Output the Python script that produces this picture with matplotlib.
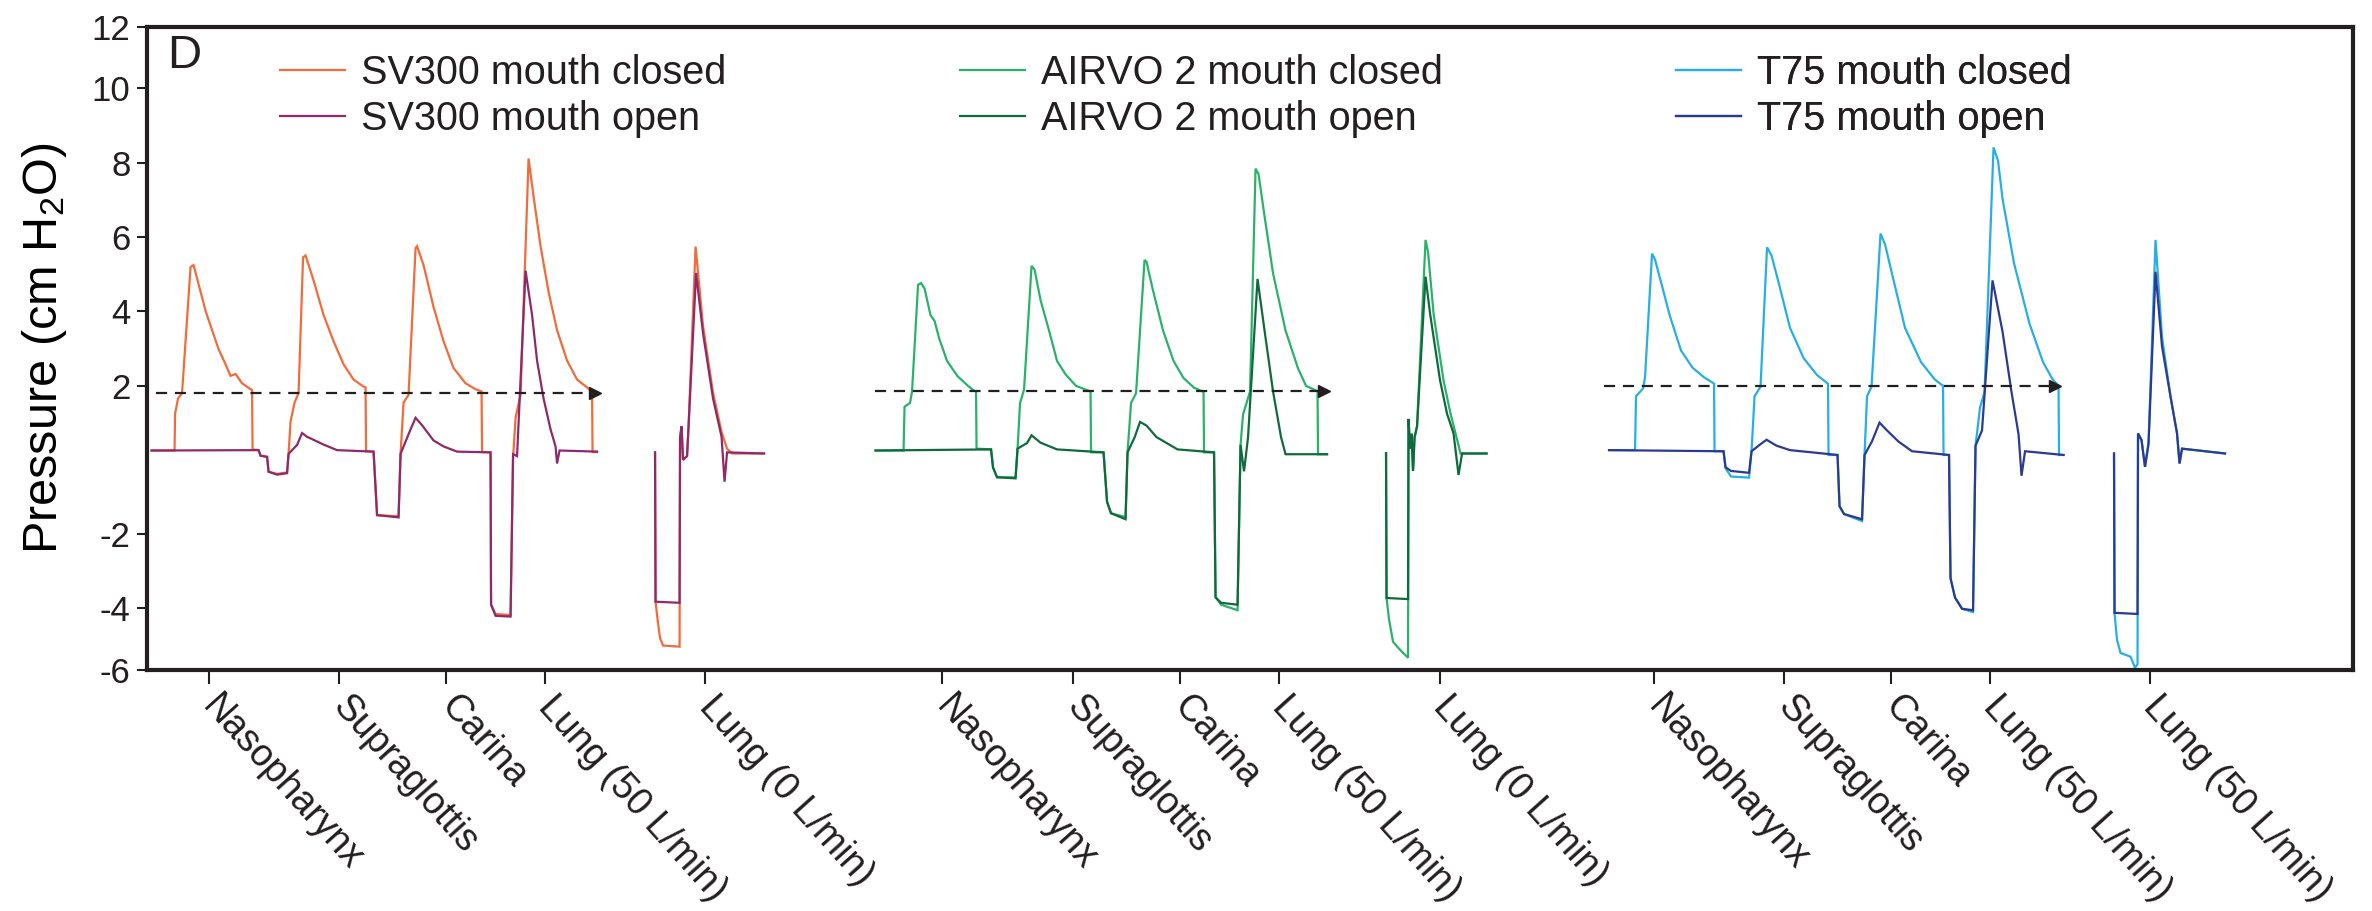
import matplotlib.pyplot as plt
from matplotlib.lines import Line2D

# Pressure traces: (time in s, pressure in cm H2O)
sv300_closed = [
    (0.09, 0.25), (0.55, 0.25), (0.56, 1.24), (0.62, 1.65), (0.70, 1.80), (0.87, 5.19),
    (0.93, 5.24), (1.03, 4.73), (1.17, 4.01), (1.30, 3.49), (1.43, 2.98), (1.57, 2.57),
    (1.67, 2.26), (1.77, 2.31), (1.90, 2.06), (2.07, 1.90), (2.10, 1.88), (2.11, 0.28),
    (2.23, 0.26), (2.27, 0.11), (2.40, 0.08), (2.43, -0.32), (2.60, -0.38), (2.80, -0.34),
    (2.83, 0.16), (2.87, 1.03), (2.95, 1.54), (3.03, 1.80), (3.12, 5.45), (3.17, 5.50),
    (3.33, 4.83), (3.53, 3.90), (3.73, 3.19), (3.93, 2.57), (4.13, 2.16), (4.33, 1.97),
    (4.37, 1.95), (4.38, 0.23), (4.53, 0.22), (4.60, -1.49), (5.03, -1.52), (5.07, 0.16),
    (5.13, 1.54), (5.23, 1.75), (5.37, 5.70), (5.40, 5.75), (5.53, 5.24), (5.73, 4.11),
    (5.93, 3.19), (6.13, 2.47), (6.37, 2.06), (6.57, 1.90), (6.67, 1.85), (6.69, 1.84),
    (6.70, 0.21), (6.87, 0.20), (6.88, -3.90), (6.97, -4.15), (7.27, -4.18), (7.32, 0.05),
    (7.37, 1.13), (7.47, 1.75), (7.63, 8.11), (7.73, 7.09), (7.87, 5.75), (8.03, 4.52),
    (8.20, 3.49), (8.40, 2.67), (8.60, 2.16), (8.80, 1.95), (8.88, 1.85), (8.90, 1.84),
    (8.91, 0.21), (9.00, 0.21),
]
sv300_open = [
    (0.09, 0.25), (2.23, 0.26), (2.27, 0.11), (2.40, 0.08), (2.43, -0.32), (2.60, -0.40),
    (2.80, -0.36), (2.83, 0.16), (3.00, 0.40), (3.10, 0.72), (3.20, 0.62), (3.53, 0.41),
    (3.80, 0.26), (4.53, 0.22), (4.60, -1.49), (5.03, -1.55), (5.07, 0.16), (5.27, 0.82),
    (5.37, 1.13), (5.50, 0.93), (5.73, 0.52), (5.93, 0.36), (6.20, 0.22), (6.87, 0.20),
    (6.88, -3.90), (6.97, -4.20), (7.27, -4.22), (7.32, 0.15), (7.40, 0.10), (7.57, 5.09),
    (7.70, 3.90), (7.80, 2.67), (7.93, 1.65), (8.07, 0.82), (8.17, 0.36), (8.20, -0.10),
    (8.25, 0.25), (9.00, 0.22),
]
sv300_lung0_closed = [
    (10.16, 0.20), (10.17, -3.82), (10.21, -4.30), (10.26, -4.80), (10.32, -5.00),
    (10.65, -5.03), (10.66, 0.60), (10.69, 0.90), (10.72, 0.00), (10.80, 0.10),
    (10.83, 0.90), (10.97, 5.74), (11.12, 3.60), (11.32, 1.80), (11.49, 0.75),
    (11.60, 0.30), (11.70, 0.17), (12.34, 0.17),
]
sv300_lung0_open = [
    (10.16, 0.20), (10.17, -3.82), (10.65, -3.85), (10.66, 0.60), (10.69, 0.90),
    (10.72, 0.00), (10.80, 0.10), (10.83, 0.90), (10.98, 5.03), (11.12, 3.40),
    (11.32, 1.65), (11.49, 0.62), (11.55, -0.59), (11.60, 0.20), (12.34, 0.17),
]

airvo_closed = [
    (14.57, 0.25), (15.13, 0.25), (15.15, 1.43), (15.26, 1.53), (15.30, 1.84), (15.42, 4.71),
    (15.48, 4.76), (15.55, 4.61), (15.67, 3.89), (15.75, 3.74), (15.84, 3.28), (16.00, 2.66),
    (16.21, 2.25), (16.42, 1.99), (16.54, 1.86), (16.58, 1.84), (16.59, 0.30), (16.88, 0.28),
    (16.92, -0.21), (17.00, -0.47), (17.37, -0.47), (17.41, 0.30), (17.46, 1.53), (17.54, 1.89),
    (17.69, 5.22), (17.75, 5.12), (17.87, 4.30), (18.04, 3.48), (18.20, 2.66), (18.37, 2.30),
    (18.58, 1.99), (18.83, 1.86), (18.87, 1.84), (18.88, 0.20), (19.13, 0.20), (19.20, -1.13),
    (19.28, -1.44), (19.57, -1.54), (19.61, 0.20), (19.68, 1.53), (19.78, 1.79), (19.95, 5.38),
    (19.99, 5.33), (20.11, 4.61), (20.32, 3.48), (20.53, 2.66), (20.73, 2.20), (20.94, 1.94),
    (21.11, 1.84), (21.13, 1.82), (21.14, 0.20), (21.34, 0.20), (21.37, -3.70), (21.48, -3.90),
    (21.81, -4.05), (21.87, 0.40), (21.92, 1.22), (22.06, 1.84), (22.17, 7.84), (22.23, 7.69),
    (22.35, 6.56), (22.52, 5.02), (22.77, 3.48), (23.02, 2.46), (23.18, 1.99), (23.39, 1.86),
    (23.41, 1.84), (23.42, 0.15), (23.60, 0.15),
]
airvo_open = [
    (14.57, 0.25), (16.88, 0.28), (16.92, -0.21), (17.00, -0.47), (17.37, -0.50), (17.41, 0.30),
    (17.60, 0.45), (17.69, 0.66), (17.87, 0.46), (18.20, 0.28), (19.13, 0.20), (19.20, -1.13),
    (19.28, -1.44), (19.57, -1.60), (19.61, 0.20), (19.75, 0.60), (19.86, 1.02), (19.99, 0.92),
    (20.19, 0.61), (20.61, 0.28), (21.34, 0.20), (21.37, -3.70), (21.48, -3.85), (21.81, -3.90),
    (21.87, 0.40), (21.94, -0.31), (22.02, 0.61), (22.21, 4.87), (22.35, 3.48), (22.52, 1.84),
    (22.68, 0.61), (22.77, 0.15), (23.60, 0.15),
]
airvo_lung0_closed = [
    (24.78, 0.18), (24.79, -3.72), (24.84, -4.30), (24.92, -4.90), (25.05, -5.10),
    (25.22, -5.33), (25.23, 1.10), (25.26, 0.30), (25.29, 0.70), (25.32, -0.30),
    (25.35, 0.60), (25.40, 0.90), (25.57, 5.92), (25.62, 5.60), (25.73, 3.94),
    (25.93, 2.14), (26.07, 1.24), (26.17, 0.71), (26.27, 0.17), (26.79, 0.17),
]
airvo_lung0_open = [
    (24.78, 0.18), (24.79, -3.72), (25.22, -3.75), (25.23, 1.10), (25.26, 0.30),
    (25.29, 0.70), (25.32, -0.30), (25.35, 0.60), (25.40, 0.90), (25.57, 4.93),
    (25.66, 3.94), (25.86, 2.14), (26.00, 1.24), (26.13, 0.71), (26.23, -0.41),
    (26.30, 0.17), (26.79, 0.17),
]

t75_closed = [
    (29.24, 0.26), (29.76, 0.26), (29.78, 1.71), (29.92, 1.92), (29.96, 2.22), (30.10, 5.55),
    (30.16, 5.39), (30.28, 4.78), (30.46, 3.86), (30.68, 2.94), (30.91, 2.48), (31.14, 2.22),
    (31.32, 2.07), (31.34, 2.05), (31.35, 0.23), (31.53, 0.23), (31.57, -0.23), (31.68, -0.45),
    (32.04, -0.48), (32.09, 0.23), (32.15, 1.71), (32.27, 1.97), (32.40, 5.72), (32.49, 5.50),
    (32.63, 4.78), (32.86, 3.55), (33.13, 2.74), (33.40, 2.28), (33.60, 2.07), (33.62, 2.05),
    (33.63, 0.13), (33.81, 0.13), (33.85, -1.25), (33.94, -1.46), (34.30, -1.65), (34.35, 0.13),
    (34.40, 1.71), (34.49, 1.97), (34.67, 6.09), (34.76, 5.80), (34.94, 4.78), (35.16, 3.55),
    (35.48, 2.63), (35.75, 2.17), (35.89, 2.02), (35.92, 2.00), (35.93, 0.13), (36.04, 0.13),
    (36.07, -3.19), (36.16, -3.71), (36.30, -4.01), (36.52, -4.10), (36.57, 0.38), (36.66, 1.41),
    (36.75, 1.82), (36.93, 8.41), (37.02, 8.05), (37.11, 7.03), (37.34, 5.29), (37.65, 3.66),
    (37.92, 2.63), (38.11, 2.17), (38.21, 2.02), (38.23, 2.00), (38.24, 0.13), (38.33, 0.13),
]
t75_open = [
    (29.24, 0.26), (31.53, 0.23), (31.57, -0.20), (31.68, -0.30), (32.04, -0.35), (32.09, 0.23),
    (32.25, 0.40), (32.39, 0.54), (32.59, 0.38), (32.86, 0.26), (33.81, 0.13), (33.85, -1.25),
    (33.94, -1.46), (34.30, -1.60), (34.35, 0.13), (34.50, 0.50), (34.65, 1.00), (34.80, 0.79),
    (35.03, 0.49), (35.30, 0.23), (36.04, 0.13), (36.07, -3.19), (36.16, -3.71), (36.30, -4.01),
    (36.52, -4.05), (36.57, 0.38), (36.70, 0.79), (36.91, 4.83), (37.11, 3.45), (37.29, 1.82),
    (37.43, 0.69), (37.49, -0.43), (37.56, 0.23), (38.33, 0.13),
]
t75_lung50_closed = [
    (39.34, 0.17), (39.35, -4.12), (39.40, -4.85), (39.47, -5.20), (39.67, -5.30),
    (39.76, -5.60), (39.81, -5.50), (39.82, 0.71), (39.89, 0.53), (39.96, -0.19),
    (40.03, 0.44), (40.17, 5.92), (40.30, 3.30), (40.47, 1.70), (40.60, 0.71),
    (40.65, -0.10), (40.70, 0.30), (41.56, 0.17),
]
t75_lung50_open = [
    (39.34, 0.17), (39.35, -4.12), (39.81, -4.15), (39.82, 0.71), (39.89, 0.53),
    (39.96, -0.19), (40.03, 0.44), (40.17, 5.06), (40.30, 3.05), (40.47, 1.70),
    (40.60, 0.71), (40.65, -0.10), (40.70, 0.30), (41.56, 0.17),
]

# dashed reference levels: (start s, end s, pressure)
ref_levels = [(0.18, 8.95, 1.80), (14.55, 23.54, 1.84), (29.14, 38.16, 2.00)]

tick_pos = [1.23, 3.84, 5.98, 7.95, 11.16,
            15.90, 18.51, 20.65, 22.63, 25.85,
            30.14, 32.74, 34.88, 36.85, 40.05]
tick_labels = ["Nasopharynx", "Supraglottis", "Carina", "Lung (50 L/min)", "Lung (0 L/min)",
               "Nasopharynx", "Supraglottis", "Carina", "Lung (50 L/min)", "Lung (0 L/min)",
               "Nasopharynx", "Supraglottis", "Carina", "Lung (50 L/min)", "Lung (50 L/min)"]

series_labels = ["SV300 mouth closed", "SV300 mouth open",
                 "AIRVO 2 mouth closed", "AIRVO 2 mouth open",
                 "T75 mouth closed", "T75 mouth open"]
series_colors = ["#f26b3a", "#8e2a6c", "#2bb26a", "#106a3c", "#27aee3", "#2b3a92"]

ink = "#231f20"


def main():
    plt.rcParams.update({
        "font.family": ["Liberation Sans", "DejaVu Sans"],
        "mathtext.fontset": "custom",
        "mathtext.rm": "Liberation Sans",
        "mathtext.it": "Liberation Sans:italic",
        "text.color": ink,
    })

    fig = plt.figure(figsize=(23.72, 9.11), dpi=100)
    ax = fig.add_axes([0.062, 0.2645, 0.930, 0.7058])

    traces = [
        (sv300_closed, 0), (sv300_lung0_closed, 0), (sv300_open, 1), (sv300_lung0_open, 1),
        (airvo_closed, 2), (airvo_lung0_closed, 2), (airvo_open, 3), (airvo_lung0_open, 3),
        (t75_closed, 4), (t75_lung50_closed, 4), (t75_open, 5), (t75_lung50_open, 5),
    ]
    for pts, k in traces:
        t, p = zip(*pts)
        ax.plot(t, p, color=series_colors[k], lw=1.6, solid_joinstyle="miter")

    for x0, x1, y in ref_levels:
        ax.plot([x0, x1], [y, y], color=ink, lw=1.6, ls=(0, (5, 3.5)))
        ax.plot([x1], [y], marker=">", ms=9, color=ink, mec=ink)

    ax.set_xlim(0, 44.12)
    ylo, yhi = -5.66, 11.65
    ax.set_ylim(ylo, yhi)
    ax.set_yticks([ylo, -4, -2, 2, 4, 6, 8, 10, yhi])
    ax.set_yticklabels(["-6", "-4", "-2", "2", "4", "6", "8", "10", "12"])
    ax.set_xticks(tick_pos)
    ax.set_xticklabels(tick_labels, rotation=-48, ha="left", va="center",
                       rotation_mode="anchor")

    ax.tick_params(axis="y", length=7, width=1.5, pad=5, labelsize=25, colors=ink)
    ax.tick_params(axis="x", length=10, width=1.5, pad=12, labelsize=27, colors=ink)
    for s in ax.spines.values():
        s.set_linewidth(3)
        s.set_color(ink)

    ax.set_ylabel("Pressure (cm H$_2$O)", fontsize=35, labelpad=16)
    ax.text(0.009, 0.955, "D", transform=ax.transAxes, fontsize=34,
            ha="left", va="center")

    handles = [Line2D([], [], color=c, lw=1.6) for c in series_colors]
    for i, x in enumerate([0.0603, 0.3685, 0.693]):
        leg = ax.legend(handles[2 * i:2 * i + 2], series_labels[2 * i:2 * i + 2],
                        loc="upper left", bbox_to_anchor=(x, 0.958), frameon=False,
                        fontsize=28.5, handlelength=1.65, handletextpad=0.4,
                        labelspacing=0.2, borderpad=0, borderaxespad=0)
        ax.add_artist(leg)

    fig.savefig("out.png", dpi=100)


if __name__ == "__main__":
    main()
